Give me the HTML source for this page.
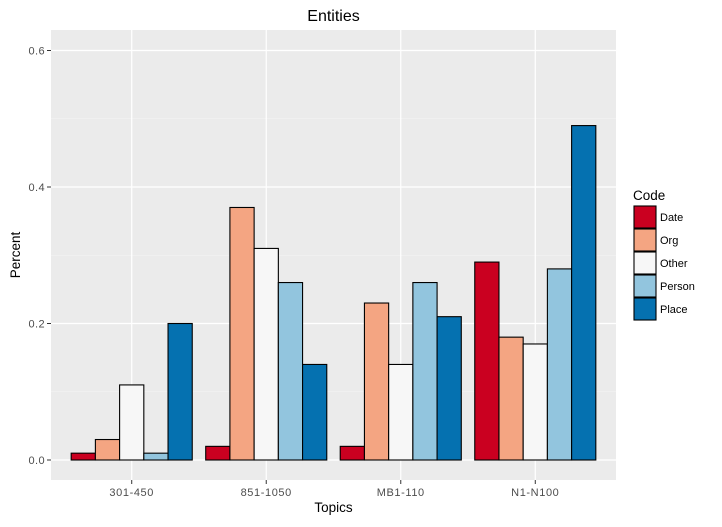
<!DOCTYPE html>
<html><head><meta charset="utf-8"><style>
body{margin:0;background:#fff;font-family:"Liberation Sans",sans-serif;}
</style></head><body>
<svg id="chart" width="722" height="522" xmlns="http://www.w3.org/2000/svg" font-family="Liberation Sans, sans-serif"></svg>
<script>
const categories = ["301-450","851-1050","MB1-110","N1-N100"];
const seriesNames = ["Date","Org","Other","Person","Place"];
const dateVals = [0.01,0.02,0.02,0.29];
const orgVals = [0.03,0.37,0.23,0.18];
const otherVals = [0.11,0.31,0.14,0.17];
const personVals = [0.01,0.26,0.26,0.28];
const placeVals = [0.20,0.14,0.21,0.49];
const yTicks = [0,0.2,0.4,0.6];
const yTickLabels = ["0.0","0.2","0.4","0.6"];
const colors = ["#CA0020","#F4A582","#F7F7F7","#92C5DE","#0571B0"];
const series = [dateVals,orgVals,otherVals,personVals,placeVals];

const svg = document.getElementById('chart');
const NS = "http://www.w3.org/2000/svg";
const L=51,R=616,T=30,B=480;
const step=(R-L)/(categories.length-1+1.2);
const xC=i=>L+(i+0.6)*step;
const y=v=>460-v*(460-50.5)/0.6;
function mk(tag,attrs,parent){const e=document.createElementNS(NS,tag);for(const k in attrs)e.setAttribute(k,attrs[k]);(parent||svg).appendChild(e);return e;}

const panel=mk('rect',{x:L,y:T,width:R-L,height:B-T,fill:'#EBEBEB'});


for(let i=0;i<yTicks.length-1;i++){
  const g=mk('line',{x1:L,x2:R,y1:y((yTicks[i]+yTicks[i+1])/2),y2:y((yTicks[i]+yTicks[i+1])/2),stroke:'#F5F5F5','stroke-width':0.6});
  
  
}
yTicks.forEach((t,i)=>{
  const g=mk('line',{x1:L,x2:R,y1:y(t),y2:y(t),stroke:'#fff','stroke-width':1.2});
  
  
  const tk=mk('line',{x1:L-4,x2:L,y1:y(t),y2:y(t),stroke:'#333','stroke-width':1});
  
  
  const tx=mk('text',{x:L-6,y:y(t)+4,'text-anchor':'end','font-size':11,'letter-spacing':0.4,fill:'#4D4D4D'});
  tx.textContent=yTickLabels[i];
  
  
});
categories.forEach((c,i)=>{
  const g=mk('line',{x1:xC(i),x2:xC(i),y1:T,y2:B,stroke:'#fff','stroke-width':1.2});
  
  
  const tk=mk('line',{x1:xC(i),x2:xC(i),y1:B,y2:B+4,stroke:'#333','stroke-width':1});
  
  
  const tx=mk('text',{x:xC(i),y:B+16,'text-anchor':'middle','font-size':11,'letter-spacing':0.6,fill:'#4D4D4D'});
  tx.textContent=c;
  
  
});
const bw=step*0.9/seriesNames.length;
series.forEach((vals,s)=>{
  vals.forEach((v,i)=>{
    const x0=xC(i)-step*0.45+s*bw;
    const r=mk('rect',{x:x0,y:y(v),width:bw,height:y(0)-y(v),fill:colors[s],stroke:'#000','stroke-width':1.1});
    
    
  });
});
const title=mk('text',{x:(L+R)/2,y:21,'text-anchor':'middle','font-size':16,fill:'#000'});
title.textContent='Entities';


const xt=mk('text',{x:(L+R)/2,y:512,'text-anchor':'middle','font-size':13.5,fill:'#000'});
xt.textContent='Topics';


const yt=mk('text',{x:20,y:(T+B)/2,'text-anchor':'middle','font-size':13.5,fill:'#000',transform:`rotate(-90 20 ${(T+B)/2})`});
yt.textContent='Percent';


const lt=mk('text',{x:633,y:200,'font-size':13.5,fill:'#000'});
lt.textContent='Code';


seriesNames.forEach((n,s)=>{
  const ky=206+s*23;
  const bg=mk('rect',{x:634,y:ky,width:22,height:22,fill:colors[s],stroke:'#000','stroke-width':1.1});
  
  
  const tx=mk('text',{x:660,y:ky+15,'font-size':11,fill:'#000'});
  tx.textContent=n;
  
  
});
</script>
</body></html>
